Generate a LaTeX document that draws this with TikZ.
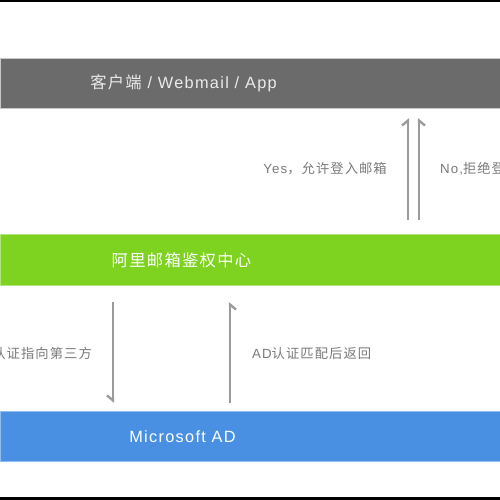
\documentclass[tikz,border=0pt]{standalone}
\usepackage{fontspec}
\setmainfont{Liberation Sans}[LetterSpace=8]
\newfontfamily\cjk{Noto Sans CJK SC}[LetterSpace=8]
\usetikzlibrary{arrows.meta}
\definecolor{bargrey}{HTML}{6B6B6B}
\definecolor{bargreen}{HTML}{7ED321}
\definecolor{barblue}{HTML}{4A90E2}
\definecolor{arrowgrey}{HTML}{9B9B9B}
\definecolor{labelgrey}{HTML}{7A7A7A}
\tikzset{
  bar/.style={rectangle, minimum width=500pt, minimum height=50pt, inner sep=0pt, outer sep=0pt},
  bartext/.style={text=white, font=\fontsize{16.3}{19}\selectfont, inner sep=0pt},
  lbl/.style={text=labelgrey, font=\fontsize{13.3}{15}\selectfont, inner sep=0pt},
  flow/.style={draw=arrowgrey, line width=2.4pt},
  harpL/.style={-{Straight Barb[harpoon, length=5pt, width=12pt, line width=2.4pt]}},
  harpR/.style={-{Straight Barb[harpoon, swap, length=5pt, width=12pt, line width=2.4pt]}}
}
\begin{document}
\begin{tikzpicture}[x=1pt,y=1pt]
\useasboundingbox (0,0) rectangle (500,500);
\clip (0,0) rectangle (500,500);
\fill[white] (0,0) rectangle (500,500);
% frame lines
\fill[black] (0,497.5) rectangle (500,500);
\fill[black] (0,0) rectangle (500,2.5);
% bars
\node[bar, fill=bargrey, draw=black!22, line width=0.8pt] (client) at (250,417) {};
\node[bar, fill=bargreen, draw=bargreen!60!white, line width=0.8pt, minimum height=51pt] (auth) at (250,240.5) {};
\node[bar, fill=barblue, draw=barblue!60!white, line width=0.8pt] (ad) at (250,64) {};
% bar texts
\node[bartext, text=white!92!black] (clientt) at (183.5,416.5) {{\cjk 客户端} / Webmail / App};
\node[bartext] (autht) at (181.5,239.5) {\cjk 阿里邮箱鉴权中心};
\node[bartext] (adt) at (182.5,63.5) {Microsoft AD};
% arrows between client and auth
\draw[flow, harpL] ([xshift=408pt,yshift=14pt]auth.north west) coordinate (yesS)
  -- ([xshift=408pt,yshift=-10pt]client.south west) coordinate (yesE);
\draw[flow, harpR] ([xshift=419pt,yshift=14pt]auth.north west) coordinate (noS)
  -- ([xshift=419pt,yshift=-10pt]client.south west) coordinate (noE);
% arrows between auth and ad
\draw[flow, harpR] ([xshift=113pt,yshift=-17pt]auth.south west) coordinate (dnS)
  -- ([xshift=113pt,yshift=8pt]ad.north west) coordinate (dnE);
\draw[flow, harpR] ([xshift=230pt,yshift=8pt]ad.north west) coordinate (upS)
  -- ([xshift=230pt,yshift=-17pt]auth.south west) coordinate (upE);
% labels
\node[lbl, anchor=east] (yes) at (387,331) {Yes{\cjk ，允许登入邮箱}};
\node[lbl, anchor=west] (no) at (440,331) {No,{\cjk 拒绝登}};
\node[lbl, anchor=east] (third) at (92,147) {\cjk 认证指向第三方};
\node[lbl, anchor=west] (ret) at (252,147) {AD{\cjk 认证匹配后返回}};
\end{tikzpicture}
\end{document}
